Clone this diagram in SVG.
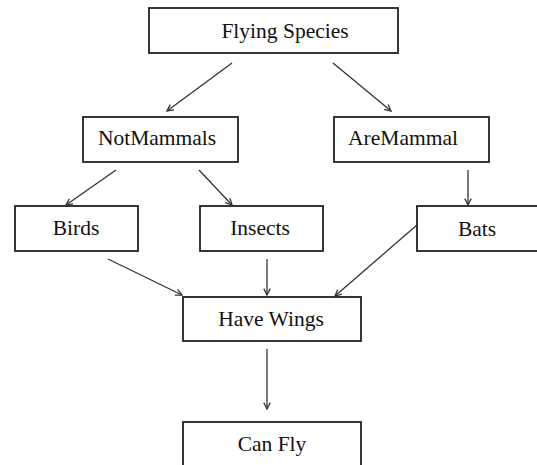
<svg xmlns="http://www.w3.org/2000/svg" width="537" height="465" viewBox="0 0 537 465">
<style>
.box{fill:#fff;stroke:#222;stroke-width:1.8}
.lbl{font-size:21.5px;fill:#111;text-anchor:middle}
.edge{stroke:#333;stroke-width:1.3;fill:none;marker-end:url(#ah)}
</style>
<defs>
<marker id="ah" viewBox="0 0 10 10" refX="9" refY="5" markerWidth="8" markerHeight="8" markerUnits="userSpaceOnUse" orient="auto">
<path d="M1,1 L9,5 L1,9" fill="none" stroke="#333" stroke-width="1.6"/>
</marker>
</defs>
<rect width="537" height="465" fill="#fff"/>
<g id="connectors">
<line class="edge" x1="232" y1="63" x2="167" y2="111"/>
<line class="edge" x1="333" y1="63" x2="391" y2="111"/>
<line class="edge" x1="116" y1="170" x2="66" y2="205"/>
<line class="edge" x1="199" y1="170" x2="232" y2="205"/>
<line class="edge" x1="468" y1="170" x2="468" y2="205"/>
<line class="edge" x1="108" y1="259" x2="182" y2="295"/>
<line class="edge" x1="267" y1="259" x2="267" y2="295"/>
<line class="edge" x1="417" y1="225" x2="335" y2="296"/>
<line class="edge" x1="267" y1="349" x2="267" y2="409"/>
</g>
<g font-family="'Liberation Serif', 'DejaVu Serif', serif">
<g id="flying-species">
<rect class="box" x="149" y="8" width="249" height="45"/>
<text class="lbl" x="285" y="38">Flying Species</text>
</g>
<g id="not-mammals">
<rect class="box" x="83" y="117" width="155" height="45"/>
<text class="lbl" x="157" y="145">NotMammals</text>
</g>
<g id="are-mammal">
<rect class="box" x="334" y="117" width="155" height="45"/>
<text class="lbl" x="403" y="145">AreMammal</text>
</g>
<g id="birds">
<rect class="box" x="15" y="206" width="123" height="45"/>
<text class="lbl" x="76" y="235">Birds</text>
</g>
<g id="insects">
<rect class="box" x="200" y="206" width="123" height="45"/>
<text class="lbl" x="260" y="235">Insects</text>
</g>
<g id="bats">
<rect class="box" x="417" y="206" width="125" height="45"/>
<text class="lbl" x="477" y="236">Bats</text>
</g>
<g id="have-wings">
<rect class="box" x="183" y="297" width="178" height="44"/>
<text class="lbl" x="271" y="326">Have Wings</text>
</g>
<g id="can-fly">
<rect class="box" x="183" y="422" width="178" height="50"/>
<text class="lbl" x="272" y="451">Can Fly</text>
</g>
</g>
</svg>
